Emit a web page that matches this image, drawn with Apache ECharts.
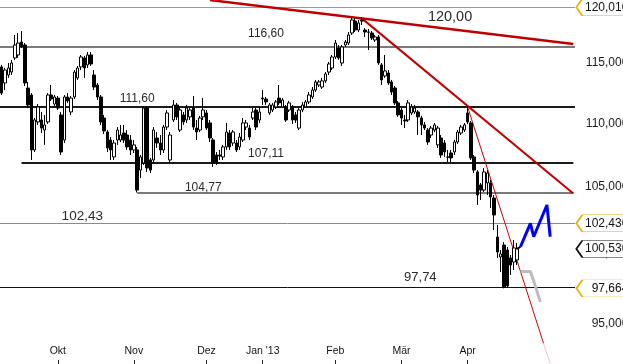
<!DOCTYPE html>
<html><head><meta charset="utf-8">
<script src="https://cdn.jsdelivr.net/npm/echarts@6/dist/echarts.min.js"></script>
<style>html,body{margin:0;padding:0;background:#fff}#c{width:623px;height:364px}</style>
</head><body><div id="c"></div>
<script>
// daily candles [open, close, low, high], 6 Sep 2012 .. 23 Apr 2013
const ohlc = [
[114.87,112.69,112.53,115.04],[113.53,114.61,112.94,114.78],[114.19,114.78,113.95,115.20],[114.44,115.20,114.19,115.46],
[115.63,116.73,115.46,117.59],[115.88,116.90,115.63,117.76],[116.99,116.56,116.47,117.93],[116.73,113.53,113.28,116.90],
[113.11,111.71,111.46,113.61],[112.53,108.09,107.30,112.69],[108.09,110.49,107.93,110.65],[110.33,111.55,110.09,111.79],
[110.49,109.84,109.44,111.14],[109.68,110.09,108.49,110.90],[110.33,112.53,110.17,112.69],[112.53,112.20,112.04,113.36],
[111.79,112.37,111.63,112.53],[112.28,111.46,111.30,112.45],[110.90,107.93,107.69,111.14],[108.88,112.37,108.64,112.53],
[112.37,112.04,111.88,112.69],[111.14,112.28,110.90,112.45],[112.37,114.44,112.20,114.61],[113.95,114.78,113.78,114.95],
[114.87,115.71,114.61,115.88],[115.63,114.78,113.95,115.80],[115.04,115.88,114.78,116.13],[115.88,115.12,114.95,116.13],
[114.19,113.19,112.94,114.61],[113.36,112.37,112.12,113.53],[112.37,110.33,110.09,112.53],[110.65,109.60,109.36,110.90],
[109.52,108.25,107.93,109.68],[108.88,108.09,107.30,109.12],[107.54,108.64,107.30,108.88],[108.88,109.68,108.49,109.92],
[108.88,109.28,108.72,110.09],[109.44,108.88,108.64,110.09],[109.28,108.33,108.09,109.68],[108.88,108.09,107.69,109.28],
[108.09,108.49,107.85,108.88],[108.09,104.96,104.77,108.33],[106.51,107.54,105.89,107.69],[107.06,111.46,106.91,111.63],
[111.46,106.67,106.36,111.63],[107.30,106.51,106.28,107.46],[107.30,109.68,107.06,109.92],[109.04,108.64,108.25,109.52],
[108.64,108.09,107.69,109.28],[108.09,109.92,107.85,110.09],[109.92,111.06,109.68,111.30],[107.30,109.28,107.06,109.52],
[110.49,111.71,110.33,112.12],[111.71,110.74,110.49,111.88],[109.68,111.30,109.52,111.46],[110.90,110.33,110.09,111.14],
[110.49,111.46,110.25,111.71],[110.74,111.30,110.49,111.46],[111.46,109.92,109.68,112.45],[109.84,109.52,108.88,110.49],
[109.68,110.65,109.52,110.82],[110.74,111.30,110.49,112.28],[111.06,109.84,109.68,111.30],[110.25,109.04,108.72,110.49],
[108.88,107.14,106.75,109.04],[107.69,107.14,106.91,107.93],[107.69,107.61,107.30,108.09],[107.54,108.33,107.30,108.49],
[108.33,109.52,108.09,110.25],[109.44,108.33,108.09,109.68],[108.64,109.52,108.41,109.68],[108.64,108.09,107.93,108.88],
[108.33,109.12,108.09,109.44],[108.88,110.25,108.72,110.65],[109.92,110.25,109.68,110.49],[109.84,109.12,108.88,110.09],
[110.65,111.14,110.49,111.46],[111.30,109.92,109.68,111.46],[110.49,111.14,110.25,111.46],[112.28,112.20,111.71,112.94],
[112.20,111.96,111.71,112.37],[111.06,111.71,110.90,111.88],[111.30,111.71,111.14,111.88],[111.55,111.96,111.38,112.12],
[112.28,111.88,111.71,113.36],[111.55,112.12,111.46,112.28],[111.55,110.49,110.33,111.71],[111.30,111.88,111.14,112.04],
[111.55,110.49,110.17,111.71],[110.90,110.49,110.25,111.14],[109.84,111.30,109.68,111.46],[111.30,111.71,111.14,111.96],
[111.55,111.96,111.46,112.12],[111.96,112.53,111.79,112.78],[112.37,112.94,112.20,113.19],[112.94,113.61,112.78,113.78],
[113.36,113.61,113.19,113.78],[113.19,113.70,113.03,113.95],[113.70,114.28,113.53,114.44],[114.44,115.12,114.19,115.29],
[114.78,115.71,114.61,115.88],[115.71,116.90,115.54,117.16],[116.47,115.63,115.46,116.73],[115.20,116.56,114.95,116.73],
[116.73,116.99,116.56,117.16],[116.90,117.59,116.73,117.85],[117.76,118.89,117.59,119.15],[118.80,118.02,117.85,119.06],
[118.02,118.63,117.85,118.89],[118.89,118.80,118.45,119.15],[118.02,117.85,117.42,118.19],[117.85,117.83,116.30,118.11],
[117.76,117.33,117.16,117.93],[117.16,117.42,116.99,117.59],[117.42,115.20,115.04,117.59],[115.04,113.78,113.36,115.20],
[114.11,114.53,113.95,115.88],[114.36,113.53,113.36,114.61],[113.61,112.78,112.53,113.78],[113.11,111.88,111.71,113.28],
[111.88,110.90,110.74,112.04],[111.30,110.65,110.09,111.46],[110.49,110.41,109.84,110.90],[110.49,111.88,110.33,112.12],
[111.06,111.55,110.90,111.79],[111.14,111.46,110.98,111.71],[111.14,110.74,109.28,111.30],[110.65,110.09,109.28,110.82],
[110.09,109.84,109.68,110.33],[109.68,108.72,108.49,109.84],[109.28,109.84,109.04,110.01],[109.68,110.09,109.52,110.25],
[108.49,109.84,108.25,110.01],[109.04,107.69,107.46,109.28],[108.64,107.93,107.54,108.88],[107.54,107.52,107.14,108.09],
[107.85,107.46,107.14,108.09],[107.93,108.72,107.69,108.88],[108.72,109.52,108.57,109.68],[109.44,109.92,109.28,110.09],
[109.68,110.09,109.52,110.25],[111.06,110.33,110.17,111.62],[110.25,107.46,107.30,110.41],[107.54,106.51,106.28,107.69],
[106.36,104.58,103.82,106.51],[105.35,104.96,104.20,105.51],[104.96,106.36,104.81,106.67],[105.51,106.28,104.58,106.51],
[105.51,104.43,103.59,105.74],[104.35,103.06,101.93,104.58],[101.41,100.30,99.87,102.31],[99.94,100.16,98.85,100.45],
[100.82,97.75,97.664,101.04],[100.45,97.84,97.70,100.67],[99.87,99.35,98.63,100.08],[99.57,100.60,98.99,101.19],
[99.72,100.53,99.35,100.97]
];
// forecast paths [categoryIndex, value]
const linkPath = [[156,100.53],[157,100.69]];
const bluePath = [[157,100.69],[160,102.43],[161,101.43],[165,103.82],[166,101.43]];
const grayPath = [[157,98.87],[160,98.87],[161,98.20],[163,96.70]];
// horizontal levels: value, text, label category, first category (null = full width)
const levelValues = [120.00, 116.60, 111.60, 107.11, 104.77, 102.43, 97.74];
const levelTexts  = ['120,00','116,60','111,60','107,11','104,77','102,43','97,74'];
const levelLabelAt = [136, 80, 41, 80, 61, 25, 127];
const levelStart  = [null, null, null, 6, 41, null, null];
// trend lines [[idx, value],[idx, value]]
const trendLines = [
  [[63,120.64],[173,116.81]],
  [[109,119.03],[173,104.70]],
  [[141,111.55],[164,93.80]],
  [[164,93.80],[166,92.42]]
];
// right axis ticks and price tags
const axisTicks = [95, 100, 105, 110, 115];
const axisTickTexts = ['95,000','100,000','105,000','110,000','115,000'];
const tagValues = [120.01, 102.43, 97.664, 100.53];
const tagTexts = ['120,010','102,430','97,664','100,530'];
const tagKinds = ['gold','gold','gold','black'];
// x axis months
const monthKeys = ['2012-10','2012-11','2012-12','2013-01','2013-02','2013-03','2013-04'];
const monthTexts = ['Okt','Nov','Dez',"Jan '13",'Feb','Mär','Apr'];
const holidays = ['2012-12-24','2012-12-25','2012-12-26','2012-12-31','2013-01-01','2013-03-29','2013-04-01','2013-05-01'];

const N = 174;
const categories = [];
let dt = new Date(Date.UTC(2012, 8, 6));
while (categories.length < N) {
  const s = dt.toISOString().slice(0,10);
  const wd = dt.getUTCDay();
  if (wd !== 0 && wd !== 6 && holidays.indexOf(s) < 0) categories.push(s);
  dt = new Date(dt.getTime() + 86400000);
}
const labelAt = {};
monthKeys.forEach((k, j) => {
  const idx = categories.findIndex(c => c.slice(0,7) === k);
  if (idx >= 0) labelAt[idx] = monthTexts[j];
});
const showTick = (idx) => labelAt[idx] !== undefined;

const last = N - 1;
const levelStyles = [
  {color:'#9a9a9a', width:1, type:'solid'},
  {color:'#7a7a7a', width:2, type:'solid'},
  {color:'#1a1a1a', width:2, type:'solid'},
  {color:'#1a1a1a', width:2, type:'solid'},
  {color:'#7a7a7a', width:2, type:'solid'},
  {color:'#8a8a8a', width:1, type:'solid'},
  {color:'#111111', width:1, type:'solid'}
];
const hLines = levelValues.map((v, i) => {
  if (levelStart[i] === null) return {yAxis: v, lineStyle: levelStyles[i]};
  return [{coord:[levelStart[i], v], lineStyle: levelStyles[i]}, {coord:[last, v]}];
});
const trendStyles = [
  {color:'#c00000', width:2.5, type:'solid'},
  {color:'#c00000', width:2, type:'solid'},
  {color:'#cc0000', width:1, type:'solid'},
  {color:'#f0c4c4', width:1, type:'solid'}
];
const tLines = trendLines.map((t, i) => [{coord:t[0], lineStyle: trendStyles[i]}, {coord:t[1]}]);

const levelOffsets = [[-1,10],[0,-13],[0,-8],[0,-8.5],[0,-4.5],[-2,-7.5],[-1,-10]];
const levelSizes = [14.5,12,12,12,12,13.5,13];
const textPoints = levelValues.map((v, i) => ({
  coord:[levelLabelAt[i], v], symbol:'rect', symbolSize:0,
  itemStyle:{color:'rgba(0,0,0,0)'},
  label:{show:true, position:'inside', offset:levelOffsets[i], formatter:levelTexts[i],
    fontSize:levelSizes[i], color:'#2a2a2a', fontFamily:'Liberation Sans, Arial, sans-serif'}
}));
const axisPoints = axisTicks.map((v, i) => ({
  coord:[last, v], symbol:'rect', symbolSize:0, itemStyle:{color:'rgba(0,0,0,0)'},
  label:{show:true, position:'inside', align:'right', offset:[55,-2.5], formatter:axisTickTexts[i],
    fontSize:12, color:'#1a1a1a', fontFamily:'Liberation Sans, Arial, sans-serif'}
}));
const tagPath = 'path://M0,8.5 L6,0 L70,0 L70,17 L6,17 Z';
const tagPoints = tagValues.map((v, i) => ({
  coord:[last, v], symbol:tagPath, symbolSize:[70,17], symbolOffset:[38,0],
  itemStyle:{color:'#fff', borderColor: tagKinds[i]==='gold' ? '#e8ae00' : '#111', borderWidth:1},
  label:{show:true, position:'inside', align:'right', offset:[17,0], formatter:tagTexts[i],
    fontSize:12, color:'#111', fontFamily:'Liberation Sans, Arial, sans-serif'}
}));

const chart = echarts.init(document.getElementById('c'), null, {renderer:'canvas'});
chart.setOption({
  animation:false,
  backgroundColor:'#fff',
  grid:{left:0, right:48, top:0, bottom:0, containLabel:false},
  xAxis:{
    type:'category', data:categories, boundaryGap:true,
    axisLine:{show:false},
    axisTick:{show:true, inside:true, length:4, alignWithLabel:true, interval:(i)=>showTick(i), lineStyle:{color:'#222'}},
    axisLabel:{show:true, inside:true, margin:7, interval:(i)=>showTick(i), formatter:(val, i)=>labelAt[i]||'',
      fontSize:10.5, color:'#111', fontFamily:'Liberation Sans, Arial, sans-serif'},
    splitLine:{show:false}
  },
  yAxis:{
    type:'log', logBase:10, min:92.399, max:120.644, position:'right',
    axisLine:{show:false}, axisTick:{show:false}, axisLabel:{show:false}, splitLine:{show:false}
  },
  series:[
    {
      type:'candlestick', data:ohlc, barWidth:3, z:3,
      itemStyle:{color:'#ffffff', color0:'#000000', borderColor:'#000000', borderColor0:'#000000', borderWidth:1},
      markLine:{silent:true, symbol:['none','none'], label:{show:false}, z:2,
        data: hLines.concat(tLines)},
      markPoint:{silent:true, data: textPoints.concat(axisPoints)}
    },
    {type:'line', data:linkPath, showSymbol:false, lineStyle:{color:'#000', width:2}, z:4},
    {type:'line', data:grayPath, showSymbol:false, lineStyle:{color:'#bdbdbd', width:3}, z:4},
    {type:'line', data:bluePath, showSymbol:false, lineStyle:{color:'#0000ff', width:3}, z:5,
      markPoint:{silent:true, z:10, data: tagPoints}}
  ]
});
</script></body></html>
